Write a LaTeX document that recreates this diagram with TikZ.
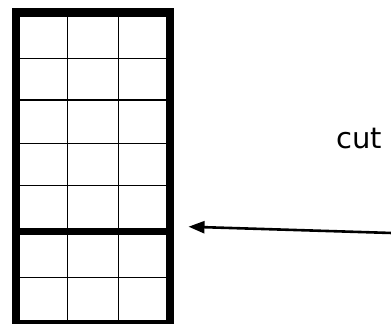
\documentclass[tikz,border=0pt]{standalone}
\usepackage{fontspec}
\setmainfont{DejaVu Sans}
\usetikzlibrary{arrows.meta}
\begin{document}
\begin{tikzpicture}[x=1pt,y=-1pt,
  thinline/.style={line width=1.6pt},
  cutline/.style={line width=7.5pt},
  frame/.style={line width=8.5pt},
  pointer/.style={line width=2.6pt,-{Triangle[length=16pt,width=12pt]}},
  label/.style={font=\fontsize{29}{32}\selectfont,anchor=base,inner sep=0pt}]
\useasboundingbox (0,0) rectangle (391,324);
\begin{scope}
\clip (0,0) rectangle (391,324);
% interior grid lines
\foreach \x in {67.3,118.3} \draw[thinline] (\x,12) -- (\x,324);
\foreach \y in {58.3,100,143.3,185.3,277.3} \draw[thinline] (16,\y) -- (170,\y);
% cut line
\draw[cutline] (16,231.7) -- (170,231.7);
% frame
\draw[frame] (16,12.3) rectangle (170,324.5);
\end{scope}
\coordinate (tail) at (392,233);
\coordinate (tip) at (188.5,226.7);
\draw[pointer] (tail) -- (tip);
\node[label] (cut) at (359.5,148) {cut};
\end{tikzpicture}
\end{document}
